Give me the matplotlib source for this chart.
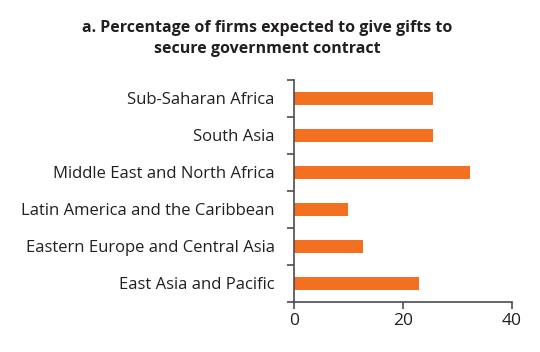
import numpy as np
import matplotlib.pyplot as plt

regions = ['East Asia and Pacific', 'Eastern Europe and Central Asia',
           'Latin America and the Caribbean', 'Middle East and North Africa',
           'South Asia', 'Sub-Saharan Africa']
pct_gifts = [22.9, 12.7, 9.9, 32.3, 25.6, 25.6]
x_ticks = [0, 20, 40]

orange = '#F37021'
text_col = '#231F20'
axis_col = '#4D4D4F'

plt.rcParams['font.family'] = ['Open Sans', 'DejaVu Sans']

fig = plt.figure(figsize=(5.4, 3.52), dpi=100)
ax = fig.add_axes([0.5444, 0.1429, 0.4032, 0.6298])

y = np.arange(len(regions))
ax.barh(y, pct_gifts, height=0.36, color=orange)

ax.set_xlim(0, 40)
ax.set_ylim(-0.5, len(regions) - 0.5)

# category labels sit between the boundary ticks
ax.set_yticks(np.arange(-0.5, len(regions), 1.0))
ax.set_yticklabels([])
ax.set_yticks(y, minor=True)
ax.set_yticklabels(regions, minor=True, fontsize=12, color=text_col)
ax.tick_params(axis='y', which='minor', length=0, pad=14)
ax.tick_params(axis='y', which='major', length=5, width=1.2, color=axis_col)

ax.set_xticks(x_ticks)
ax.set_xticklabels([str(v) for v in x_ticks], fontsize=12.5, color=text_col)
ax.tick_params(axis='x', length=5, width=1.2, color=axis_col, pad=3)

for side in ['top', 'right']:
    ax.spines[side].set_visible(False)
for side in ['left', 'bottom']:
    ax.spines[side].set_color(axis_col)
    ax.spines[side].set_linewidth(1.2)

fig.text(0.495, 0.89, 'a. Percentage of firms expected to give gifts to\nsecure government contract',
         ha='center', va='center', fontsize=11.5, fontweight='bold', color=text_col,
         linespacing=1.45)

fig.savefig('out.png', dpi=100, facecolor='white')
